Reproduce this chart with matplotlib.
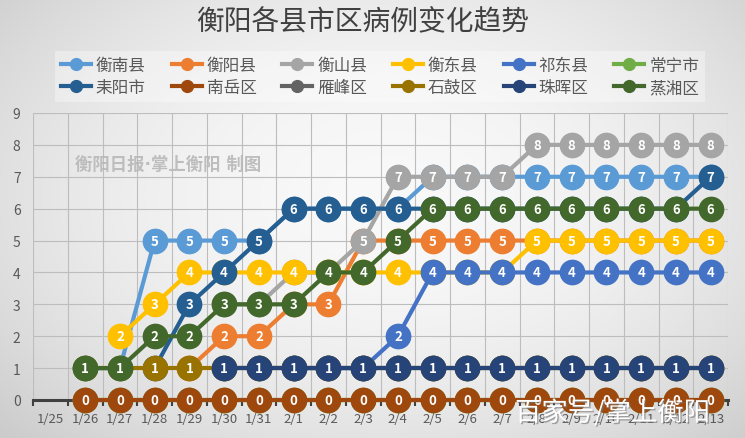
import numpy as np
import matplotlib
matplotlib.use("Agg")
import matplotlib.pyplot as plt
from matplotlib.lines import Line2D
import matplotlib.patheffects as pe

plt.rcParams['font.family'] = ['Noto Sans CJK SC', 'DejaVu Sans']

nan = np.nan

# ---- data (1/25 .. 2/13) ----
dates = ["1/25", "1/26", "1/27", "1/28", "1/29", "1/30", "1/31", "2/1", "2/2", "2/3",
         "2/4", "2/5", "2/6", "2/7", "2/8", "2/9", "2/10", "2/11", "2/12", "2/13"]

hengnan   = [nan, 1, 1, 5, 5, 5, 5, 6, 6, 6, 6, 7, 7, 7, 7, 7, 7, 7, 7, 7]
hengyang  = [nan, nan, nan, nan, 1, 2, 2, 3, 3, 5, 5, 5, 5, 5, 5, 5, 5, 5, 5, 5]
hengshan  = [nan, nan, nan, nan, nan, 3, 3, 4, 4, 5, 7, 7, 7, 7, 8, 8, 8, 8, 8, 8]
hengdong  = [nan, nan, 2, 3, 4, 4, 4, 4, 4, 4, 4, 4, 4, 4, 5, 5, 5, 5, 5, 5]
qidong    = [nan, nan, nan, nan, nan, nan, nan, 1, 1, 1, 2, 4, 4, 4, 4, 4, 4, 4, 4, 4]
changning = [nan, 0, 0, 0, 0, 0, 0, 0, 0, 0, 0, 0, 0, 0, 0, 0, 0, 0, 0, 0]
leiyang   = [nan, nan, nan, 1, 3, 4, 5, 6, 6, 6, 6, 6, 6, 6, 6, 6, 6, 6, 6, 7]
nanyue    = [nan, 0, 0, 0, 0, 0, 0, 0, 0, 0, 0, 0, 0, 0, 0, 0, 0, 0, 0, 0]
yanfeng   = [nan, nan, nan, nan, nan, 1, 1, 1, 1, 1, 1, 1, 1, 1, 1, 1, 1, 1, 1, 1]
shigu     = [nan, 1, 1, 1, 1, 1, 1, 1, 1, 1, 1, 1, 1, 1, 1, 1, 1, 1, 1, 1]
zhuhui    = [nan, nan, nan, nan, nan, 1, 1, 1, 1, 1, 1, 1, 1, 1, 1, 1, 1, 1, 1, 1]
zhengxiang = [nan, 1, 1, 2, 2, 3, 3, 3, 4, 4, 5, 6, 6, 6, 6, 6, 6, 6, 6, 6]

names = ["衡南县", "衡阳县", "衡山县", "衡东县", "祁东县", "常宁市",
         "耒阳市", "南岳区", "雁峰区", "石鼓区", "珠晖区", "蒸湘区"]
series = [hengnan, hengyang, hengshan, hengdong, qidong, changning,
          leiyang, nanyue, yanfeng, shigu, zhuhui, zhengxiang]
colors = ["#5B9BD5", "#ED7D31", "#A5A5A5", "#FFC000", "#4472C4", "#70AD47",
          "#255E91", "#9E480E", "#636363", "#997300", "#264478", "#43682B"]

W, H = 745, 439
fig = plt.figure(figsize=(W / 100, H / 100), dpi=100)

# ---- background gradient ----
bg = fig.add_axes([0, 0, 1, 1], zorder=-10)
yy, xx = np.mgrid[0:1:200j, 0:1:340j]
r2 = ((xx - 0.52) / 0.75) ** 2 + ((yy - 0.45) / 0.85) ** 2
shade = np.clip(0.975 - 0.20 * r2, 0, 1)
bg.imshow(np.dstack([shade] * 3), aspect="auto", extent=[0, 1, 0, 1], interpolation="bilinear")
bg.axis("off")

ax = fig.add_axes([33 / W, 1 - 401 / H, 695 / W, 287 / H])
ax.patch.set_alpha(0)
x = np.arange(len(dates))

for k, (name, vals, col) in enumerate(zip(names, series, colors)):
    z = 3 + k * 0.1
    v = np.array(vals, dtype=float)
    ax.plot(x, v, color=col, lw=3.0, marker="o", ms=17.5, mec=col, mfc=col,
            zorder=z, clip_on=False, solid_capstyle="round")
    for xi, vi in zip(x, v):
        if np.isnan(vi):
            continue
        ax.text(xi, vi, f"{int(vi)}", color="white", fontsize=9.5, fontweight="bold",
                ha="center", va="center", zorder=z + 0.05, clip_on=False)

ax.set_xlim(-0.5, len(dates) - 0.5)
ax.set_ylim(0, 9)
ax.set_yticks(range(10))
ax.set_xticks(x)
ax.set_xticklabels(dates)
ax.set_xticks(np.arange(-0.5, len(dates)), minor=True)
ax.tick_params(axis="x", which="major", length=0, pad=9, labelsize=9.5, labelcolor="#595959")
ax.tick_params(axis="x", which="minor", length=4, width=1.5, color="#404040", direction="out")
ax.tick_params(axis="y", length=0, pad=9, labelsize=10, labelcolor="#595959")
ax.grid(axis="y", color="#bdbdbd", lw=0.8)
ax.grid(axis="x", which="minor", color="#bdbdbd", lw=0.8)
ax.set_axisbelow(True)
for s in ["left", "right", "top"]:
    ax.spines[s].set_visible(False)
ax.spines["bottom"].set_color("#404040")
ax.spines["bottom"].set_linewidth(2.2)
ax.spines["bottom"].set_zorder(2.5)

# ---- title & legend ----
fig.text(0.487, 1 - 22 / H, "衡阳各县市区病例变化趋势", ha="center", va="center",
         fontsize=20, color="#404040")

# legend fills column by column, so interleave to get row-wise order
ncol = 6
order = [i + r * ncol for i in range(ncol) for r in range(2)]
handles = [Line2D([0], [0], color=colors[i], lw=3, marker="o", ms=8.5) for i in order]
labels = [names[i] for i in order]
leg = fig.legend(handles, labels, ncol=ncol, loc="center", bbox_to_anchor=(380 / W, 1 - 77.5 / H),
                 fontsize=12, handlelength=1.8, handletextpad=0.3, columnspacing=1.55,
                 labelspacing=0.3, frameon=True, borderpad=0.35, fancybox=False)
leg.get_frame().set_facecolor("white")
leg.get_frame().set_alpha(0.35)
leg.get_frame().set_edgecolor("none")
for t in leg.get_texts():
    t.set_color("#595959")

# ---- watermarks ----
fig.text(75 / W, 1 - 165 / H, "衡阳日报·掌上衡阳 制图", ha="left", va="center",
         fontsize=12.5, fontweight="bold", color="#b8b8b8", alpha=0.9,
         family=["DejaVu Sans", "Noto Sans CJK SC"])
fig.text(515 / W, 1 - 414 / H, "百家号/掌上衡阳", ha="left", va="center",
         fontsize=19, color="white", zorder=20,
         path_effects=[pe.withSimplePatchShadow(offset=(1, -1), shadow_rgbFace="#777777", alpha=0.6)])

fig.savefig("out.png", dpi=100)
